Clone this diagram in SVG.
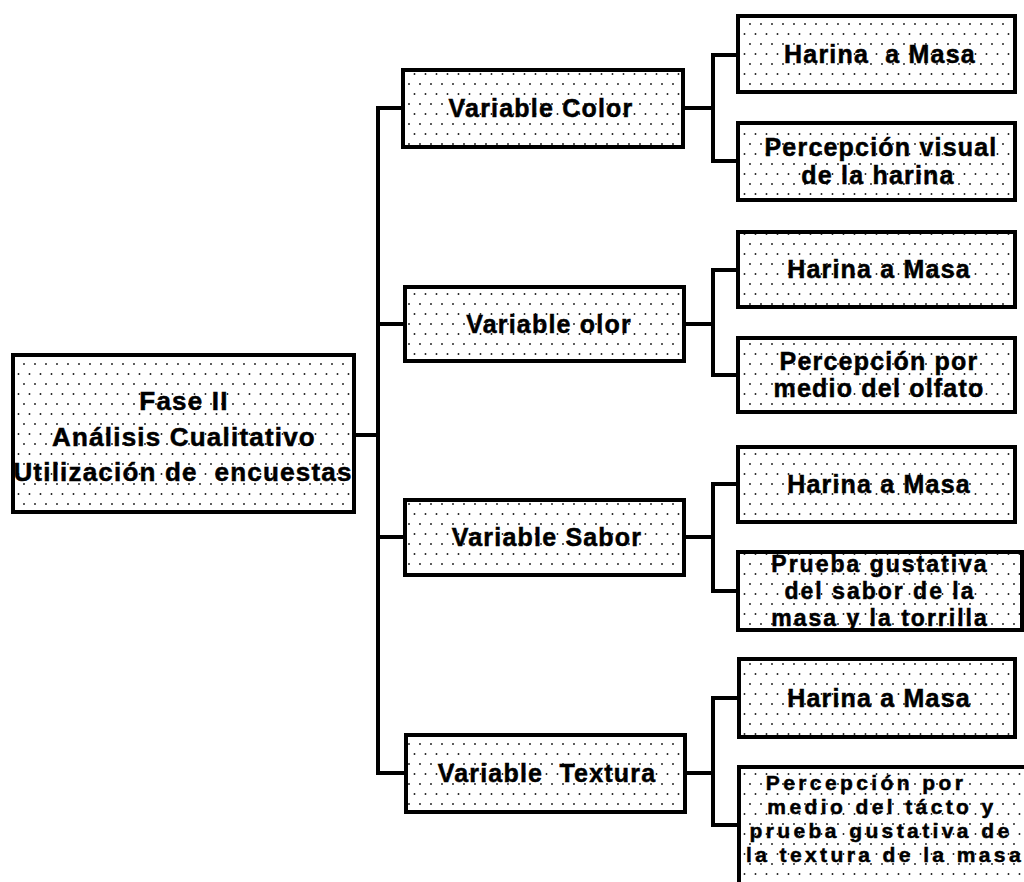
<svg xmlns="http://www.w3.org/2000/svg" width="1024" height="882" viewBox="0 0 1024 882">
  <defs>
    <!-- stippled fill used by every box -->
    <pattern id="stipple" x="0" y="0" width="11" height="20" patternUnits="userSpaceOnUse">
      <rect width="11" height="20" fill="#ffffff"/>
      <circle cx="2" cy="4" r="0.95" fill="#1a1a1a"/>
      <circle cx="7.5" cy="14" r="0.95" fill="#1a1a1a"/>
    </pattern>
    <style>
      .box { fill: url(#stipple); stroke: #000; stroke-width: 4; }
      .wire { fill: none; stroke: #000; stroke-width: 4; stroke-linejoin: miter; stroke-linecap: square; }
      text { font-family: "Liberation Sans", Arial, sans-serif; font-weight: bold; fill: #000; stroke: #000; stroke-width: 0.5; text-anchor: middle; letter-spacing: 1.2px; }
      .root { font-size: 26px; }
      .mid { font-size: 25px; }
      .leaf { font-size: 25px; }
      .tight { font-size: 23px; letter-spacing: 2px; }
      .small { font-size: 21px; letter-spacing: 3.4px; }
    </style>
  </defs>

  <rect width="1024" height="882" fill="#ffffff"/>

  <!-- connectors -->
  <g id="connectors" class="wire">
    <!-- trunk from the root to the four variables -->
    <path d="M354 435 H378"/>
    <path d="M404 108 H378 V773 H405"/>
    <path d="M378 324 H404"/>
    <path d="M378 537 H404"/>
    <!-- color branch -->
    <path d="M684 108 H713"/>
    <path d="M738 55 H713 V161 H738"/>
    <!-- olor branch -->
    <path d="M684 324 H713"/>
    <path d="M738 270 H713 V375 H738"/>
    <!-- sabor branch -->
    <path d="M684 537 H713"/>
    <path d="M738 484 H713 V591 H738"/>
    <!-- textura branch -->
    <path d="M685 773 H713"/>
    <path d="M739 698 H713 V825 H739"/>
  </g>

  <!-- root -->
  <g id="fase-ii">
    <rect class="box" x="13" y="355" width="341" height="157"/>
    <text class="root" x="184" y="410">Fase II</text>
    <text class="root" x="184" y="446">Análisis Cualitativo</text>
    <text class="root" x="183" y="481" xml:space="preserve">Utilización de  encuestas</text>
  </g>

  <!-- variables -->
  <g id="variable-color">
    <rect class="box" x="403" y="70" width="280" height="77"/>
    <text class="mid" x="541" y="117">Variable Color</text>
  </g>
  <g id="variable-olor">
    <rect class="box" x="405" y="287" width="279" height="74"/>
    <text class="mid" x="549" y="333">Variable olor</text>
  </g>
  <g id="variable-sabor">
    <rect class="box" x="405" y="500" width="279" height="75"/>
    <text class="mid" x="547" y="546">Variable Sabor</text>
  </g>
  <g id="variable-textura">
    <rect class="box" x="406" y="735" width="279" height="77"/>
    <text class="mid" x="547" y="782" xml:space="preserve">Variable  Textura</text>
  </g>

  <!-- color leaves -->
  <g id="color-harina">
    <rect class="box" x="738" y="16" width="277" height="76"/>
    <text class="leaf" x="880" y="63" xml:space="preserve">Harina  a Masa</text>
  </g>
  <g id="color-percepcion">
    <rect class="box" x="738" y="123" width="277" height="77"/>
    <text class="leaf" x="881" y="156">Percepción visual</text>
    <text class="leaf" x="878" y="184">de la harina</text>
  </g>

  <!-- olor leaves -->
  <g id="olor-harina">
    <rect class="box" x="738" y="232" width="277" height="75"/>
    <text class="leaf" x="879" y="278">Harina a Masa</text>
  </g>
  <g id="olor-percepcion">
    <rect class="box" x="738" y="338" width="277" height="74"/>
    <text class="leaf" x="879" y="370">Percepción por</text>
    <text class="leaf" x="879" y="397">medio del olfato</text>
  </g>

  <!-- sabor leaves -->
  <g id="sabor-harina">
    <rect class="box" x="738" y="447" width="277" height="75"/>
    <text class="leaf" x="879" y="493">Harina a Masa</text>
  </g>
  <g id="sabor-prueba">
    <rect class="box" x="738" y="552" width="284" height="78"/>
    <text class="tight" x="880" y="572">Prueba gustativa</text>
    <text class="tight" x="880" y="599">del sabor de la</text>
    <text class="tight" x="880" y="626">masa y la torrilla</text>
  </g>

  <!-- textura leaves -->
  <g id="textura-harina">
    <rect class="box" x="739" y="659" width="276" height="78"/>
    <text class="leaf" x="879" y="707">Harina a Masa</text>
  </g>
  <g id="textura-percepcion">
    <rect class="box" x="739" y="767" width="320" height="150"/>
    <text class="small" x="866" y="790">Percepción por</text>
    <text class="small" x="882" y="814">medio del tácto y</text>
    <text class="small" x="881" y="838">prueba gustativa de</text>
    <text class="small" x="885" y="862">la textura de la masa</text>
  </g>
</svg>
